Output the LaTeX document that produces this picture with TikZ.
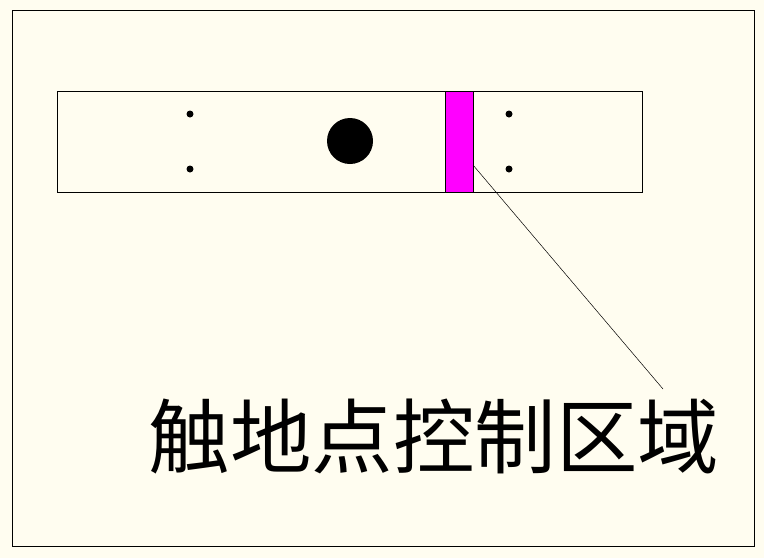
\documentclass[tikz,border=0pt]{standalone}
\usepackage{fontspec}
\newfontfamily\cjk{Noto Sans CJK SC}
\definecolor{bg}{HTML}{FFFDF0}
\definecolor{mag}{HTML}{FF00FF}
\begin{document}
\begin{tikzpicture}[x=1pt,y=-1pt,
  frame/.style={draw=black,line width=1pt},
  dot/.style={circle,fill=black,inner sep=0pt,minimum size=7pt},
  label/.style={font=\cjk\fontsize{81.5}{82}\selectfont,inner sep=0pt}]
\fill[bg] (0,0) rectangle (764,558);
\useasboundingbox (0,0) rectangle (764,558);
\draw[frame] (12,10) rectangle (754,546);
\draw[frame] (57,91) rectangle (642,192);
\draw[frame,fill=mag] (445,91) rectangle (473,192);
\node[circle,fill=black,inner sep=0pt,minimum size=46pt] (big) at (350,141) {};
\node[dot] (d1) at (190,114) {};
\node[dot] (d2) at (190,169) {};
\node[dot] (d3) at (509,114) {};
\node[dot] (d4) at (509,169) {};
\coordinate (p) at (473,165);
\node[label] (t) at (434,437) {触地点控制区域};
\coordinate (q) at (663,389);
\draw[line width=0.5pt] (p) -- (q);
\end{tikzpicture}
\end{document}
